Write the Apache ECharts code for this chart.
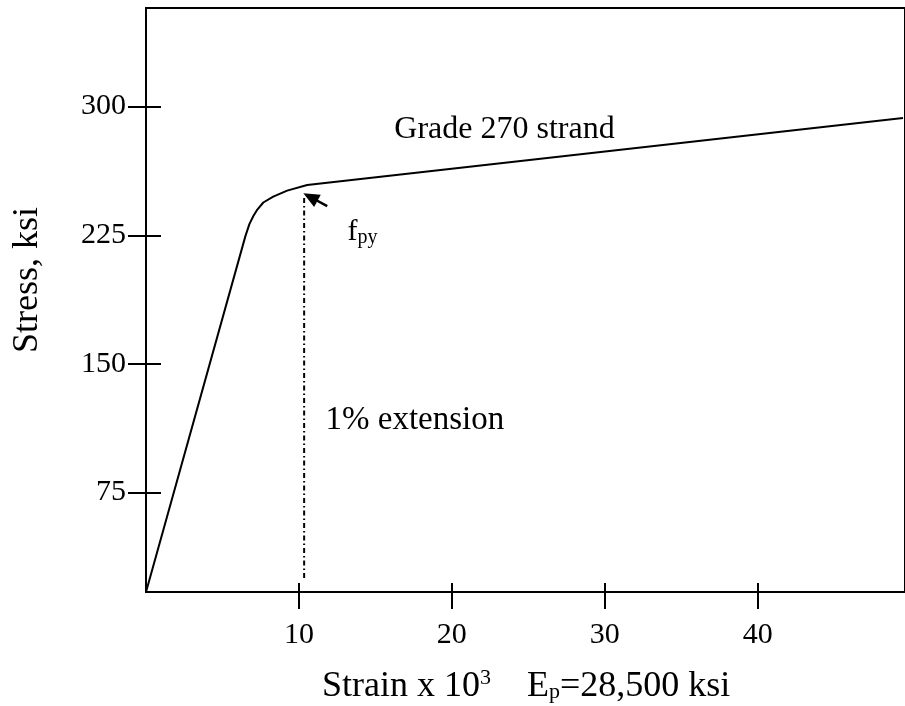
<!DOCTYPE html>
<html>
<head>
<meta charset="utf-8">
<script src="https://cdn.jsdelivr.net/npm/echarts@6/dist/echarts.min.js"></script>
<style>html,body{margin:0;padding:0;background:#fff}#c{width:905px;height:706px}</style>
</head>
<body>
<div id="c"></div>
<script>
const FONT = "'Liberation Serif','Times New Roman',serif";

// stress-strain curve (strain x 10^3, stress ksi)
const strain = [0, 6.50, 6.76, 7.02, 7.28, 7.67, 8.32, 9.23, 10.54, 49.5];
const stress = [17, 224.5, 231.5, 236.2, 240.0, 244.1, 247.5, 251.0, 254.3, 293.3];

const xTickValues = [10, 20, 30, 40];
const yTickValues = [75, 150, 225, 300];
const xRange = [0, 49.63];
const yRange = [17, 357.5];

// 1% extension line
const extensionStrain = [10.34, 10.34];
const extensionStress = [25.2, 247.5];

// fpy arrow
const arrowFrom = [11.85, 242.0];
const arrowTo = [10.75, 247.3];

// annotation anchors
const gradeLabelAt = [23.44, 286.6];
const extensionLabelAt = [17.58, 117.0];
const fpyLabelAt = [14.15, 227.0];

const xTitle = '{a|Strain x 10}{sup|3}{e|E}{sub|p}{a|=28,500 ksi}';

const chart = echarts.init(document.getElementById('c'), null, {renderer: 'canvas'});
const black = '#000';

const option = {
  animation: false,
  title: {
    text: xTitle, left: 322, top: 669, padding: 0,
    textStyle: {
      fontFamily: FONT, fontSize: 36, fontWeight: 'normal', color: black,
      rich: {
        a: {fontFamily: FONT, fontSize: 36, lineHeight: 36, color: black},
        e: {fontFamily: FONT, fontSize: 36, lineHeight: 36, color: black, padding: [0, 0, 0, 36]},
        sup: {fontFamily: FONT, fontSize: 22, lineHeight: 4, color: black, padding: [0, 0, 18, 0]},
        sub: {fontFamily: FONT, fontSize: 22, lineHeight: 4, color: black, padding: [10, 0, 0, 0]}
      }
    }
  },
  grid: {
    left: 146, right: -2, top: 8, bottom: 114, containLabel: false,
    show: true, borderColor: black, borderWidth: 2, backgroundColor: 'transparent'
  },
  xAxis: [
    {
      type: 'value', min: xRange[0], max: xRange[1], position: 'bottom',
      axisLine: {show: true, onZero: false, lineStyle: {color: black, width: 2}},
      axisTick: {show: true, customValues: xTickValues, length: 17, lineStyle: {color: black, width: 2}},
      axisLabel: {show: true, customValues: xTickValues, fontSize: 30, fontFamily: FONT, color: black, margin: 28},
      splitLine: {show: false}
    },
    {
      // inner half of the strain ticks (top-positioned axis moved down onto the bottom edge)
      type: 'value', min: xRange[0], max: xRange[1], position: 'top', offset: -584,
      axisLine: {show: false, onZero: false},
      axisTick: {show: true, customValues: xTickValues, length: 9, lineStyle: {color: black, width: 2}},
      axisLabel: {show: false}, splitLine: {show: false}
    }
  ],
  yAxis: [
    {
      type: 'value', min: yRange[0], max: yRange[1], position: 'left',
      axisLine: {show: true, onZero: false, lineStyle: {color: black, width: 2}},
      axisTick: {show: true, customValues: yTickValues, length: 18, lineStyle: {color: black, width: 2}},
      axisLabel: {show: true, customValues: yTickValues, fontSize: 30, fontFamily: FONT, color: black, margin: 20},
      splitLine: {show: false},
      name: 'Stress, ksi', nameLocation: 'middle', nameGap: 100, nameMoveOverlap: false,
      nameTextStyle: {fontFamily: FONT, fontSize: 36, color: black, padding: [0, 0, 0, 40]}
    },
    {
      // inner half of the stress ticks (right-positioned axis moved onto the left edge)
      type: 'value', min: yRange[0], max: yRange[1], position: 'right', offset: -761,
      axisLine: {show: false, onZero: false},
      axisTick: {show: true, customValues: yTickValues, length: 17, lineStyle: {color: black, width: 2}},
      axisLabel: {show: false}, splitLine: {show: false}
    }
  ],
  series: [
    {
      type: 'line', xAxisIndex: 0, yAxisIndex: 0,
      data: strain.map((s, i) => [s, stress[i]]),
      symbol: 'none', lineStyle: {color: black, width: 2}, silent: true,
      markLine: {
        silent: true, symbol: ['none', 'triangle'], symbolSize: [14, 16],
        lineStyle: {color: black, width: 2.5, type: 'solid'},
        itemStyle: {color: black},
        label: {show: false},
        data: [[{coord: arrowFrom}, {coord: arrowTo}]]
      },
      markPoint: {
        silent: true, symbol: 'circle', symbolSize: 1,
        itemStyle: {color: 'rgba(0,0,0,0)'},
        label: {show: true, position: 'inside', color: black, fontFamily: FONT, fontSize: 32},
        data: [
          {coord: gradeLabelAt, label: {formatter: 'Grade 270 strand'}},
          {coord: extensionLabelAt, label: {formatter: '1% extension', fontSize: 33}},
          {coord: fpyLabelAt, label: {
            formatter: '{f|f}{s|py}',
            rich: {
              f: {fontFamily: FONT, fontSize: 30, color: black},
              s: {fontFamily: FONT, fontSize: 20, color: black, padding: [12, 0, 0, 0]}
            }
          }}
        ]
      }
    },
    {
      type: 'line', xAxisIndex: 0, yAxisIndex: 0,
      data: extensionStrain.map((s, i) => [s, extensionStress[i]]),
      symbol: 'none', silent: true,
      lineStyle: {color: black, width: 2, type: [5, 3, 1.5, 3]}
    }
  ]
};
chart.setOption(option);
</script>
</body>
</html>
